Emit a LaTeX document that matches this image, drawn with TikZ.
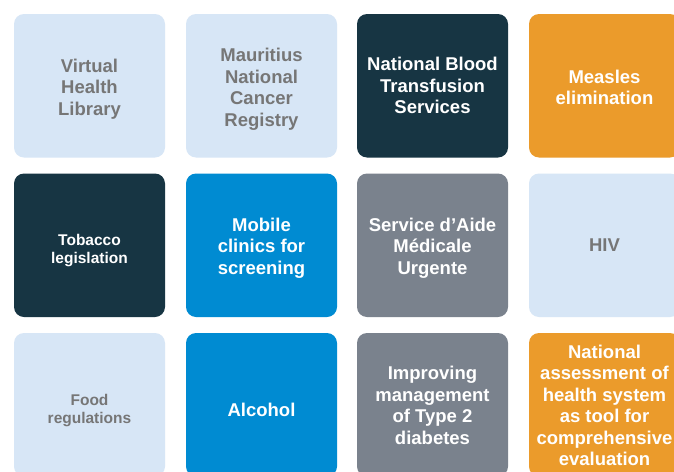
\documentclass[tikz,border=0pt]{standalone}
\usepackage{fontspec}
\setmainfont{Liberation Sans}
\definecolor{lightbx}{HTML}{D7E6F6}
\definecolor{navybx}{HTML}{173543}
\definecolor{bluebx}{HTML}{008BD2}
\definecolor{greybx}{HTML}{7A828D}
\definecolor{orangebx}{HTML}{EB9B2B}
\definecolor{greytxt}{HTML}{767676}
\tikzset{
  tile/.style={minimum width=151pt, minimum height=143.5pt, rounded corners=10pt,
    inner sep=0pt, draw=none},
  txt/.style={inner sep=0pt, align=center, text=white,
    font=\fontsize{18.5}{21.5}\selectfont\bfseries},
  greytext/.style={txt, text=greytxt},
  smalltxt/.style={font=\fontsize{15.5}{18}\selectfont\bfseries},
  lighttile/.style={tile, fill=lightbx},
  navytile/.style={tile, fill=navybx},
  bluetile/.style={tile, fill=bluebx},
  greytile/.style={tile, fill=greybx},
  orangetile/.style={tile, fill=orangebx}
}
\begin{document}
\begin{tikzpicture}[x=1pt,y=1pt]
\useasboundingbox (0,0) rectangle (674,-471);
\clip (0,0) rectangle (674,-471);
\fill[white] (0,0) rectangle (674,-471);
% boxes
\node[lighttile] (vhl) at (89.5,-85.75) {};
\node[lighttile] (mncr) at (261.5,-85.75) {};
\node[navytile] (nbts) at (432.5,-85.75) {};
\node[orangetile] (me) at (604.5,-85.75) {};
\node[navytile] (tl) at (89.5,-245.25) {};
\node[bluetile] (mcs) at (261.5,-245.25) {};
\node[greytile] (samu) at (432.5,-245.25) {};
\node[lighttile] (hiv) at (604.5,-245.25) {};
\node[lighttile] (fr) at (89.5,-404.75) {};
\node[bluetile] (alc) at (261.5,-404.75) {};
\node[greytile] (t2d) at (432.5,-404.75) {};
\node[orangetile] (nahs) at (604.5,-404.75) {};
% texts
\node[greytext, yshift=-3pt] (vhl-t) at (vhl) {Virtual\\Health\\Library};
\node[greytext, yshift=-3.5pt] (mncr-t) at (mncr) {Mauritius\\National\\Cancer\\Registry};
\node[txt] (nbts-t) at (nbts) {National Blood\\Transfusion\\Services};
\node[txt, yshift=-1.5pt] (me-t) at (me) {Measles\\elimination};
\node[txt, smalltxt, yshift=-5.5pt] (tl-t) at (tl) {Tobacco\\legislation};
\node[txt, yshift=-3pt] (mcs-t) at (mcs) {Mobile\\clinics for\\screening};
\node[txt, yshift=-3pt] (samu-t) at (samu) {Service d’Aide\\Médicale\\Urgente};
\node[greytext] (hiv-t) at (hiv) {HIV};
\node[greytext, smalltxt, yshift=-6pt] (fr-t) at (fr) {Food\\regulations};
\node[txt, yshift=-5pt] (alc-t) at (alc) {Alcohol};
\node[txt, yshift=-0.5pt] (t2d-t) at (t2d) {Improving\\management\\of Type 2\\diabetes};
\node[txt, yshift=-0.5pt] (nahs-t) at (nahs) {National\\assessment of\\health system\\as tool for\\comprehensive\\evaluation};
\end{tikzpicture}
\end{document}
